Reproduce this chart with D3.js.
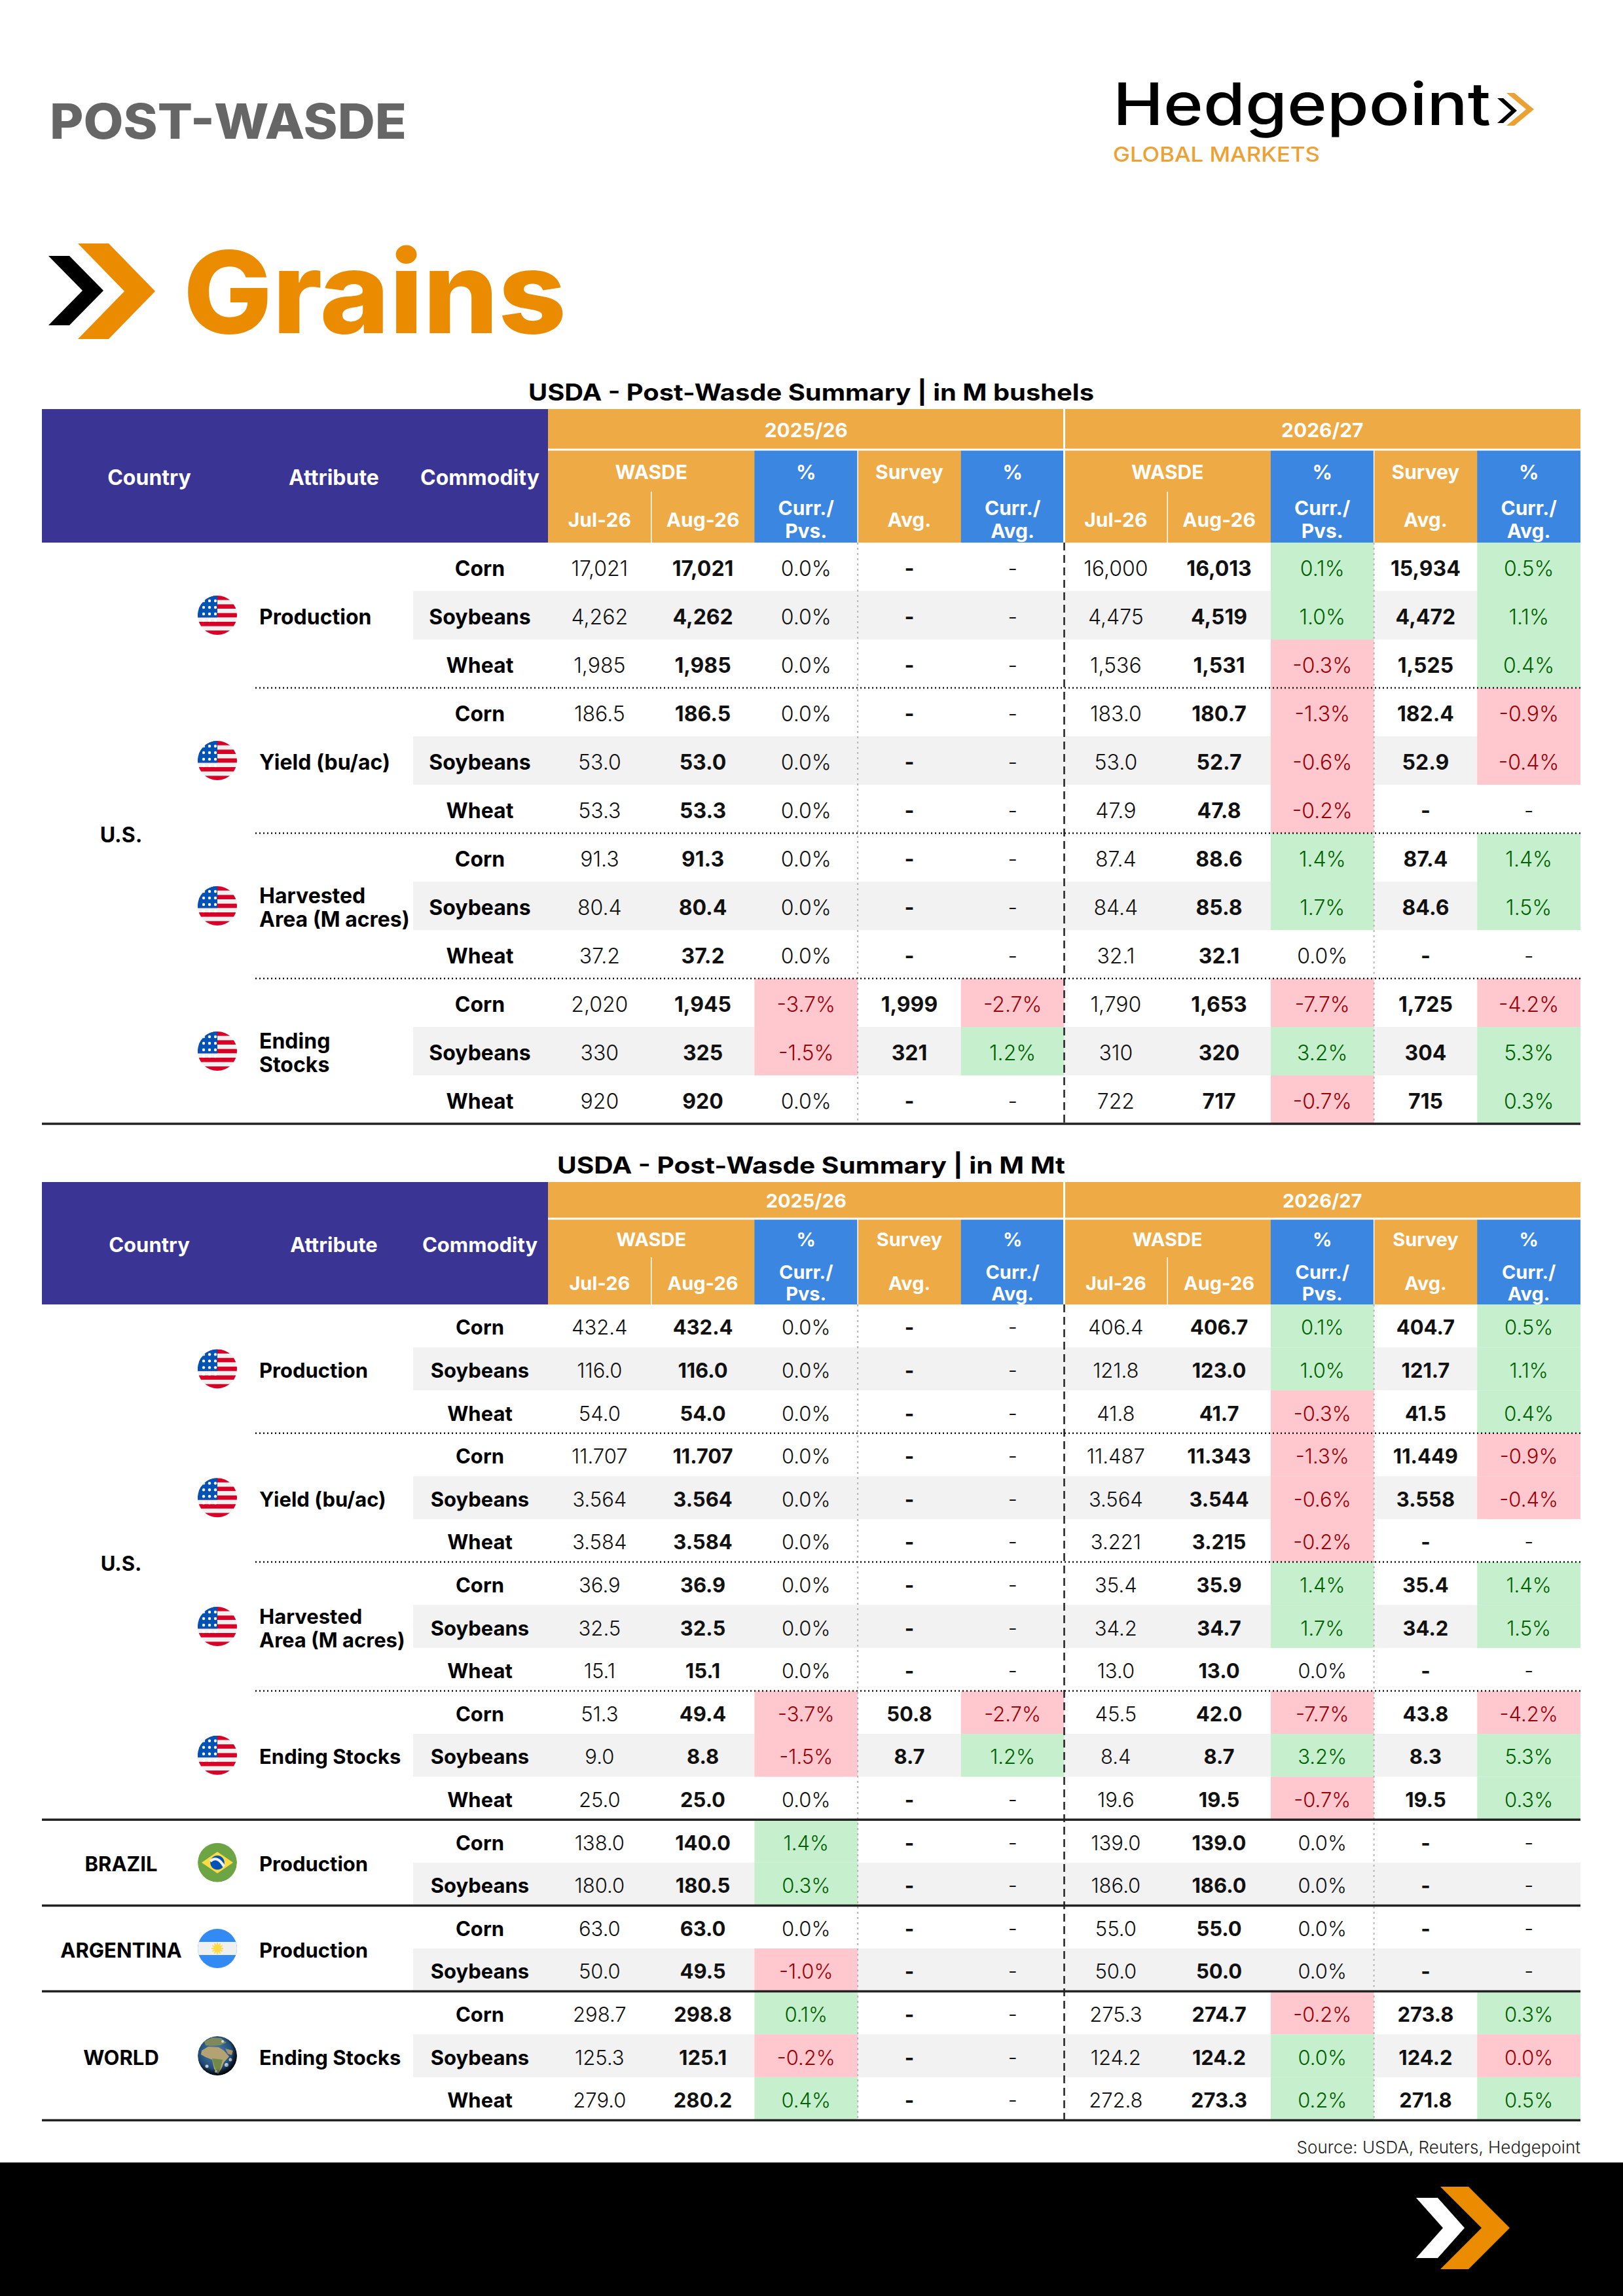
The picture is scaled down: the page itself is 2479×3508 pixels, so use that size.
<!DOCTYPE html>
<html>
<head>
<meta charset="utf-8">
<script src="https://cdn.jsdelivr.net/npm/d3@7"></script>
<style>
  body { margin: 0; background: #fff; }
  svg { display: block; }
</style>
</head>
<body>
<svg id="chart"></svg>
<script>
// ---- data: table 1, in M bushels ----
var t1Commodity = ["Corn","Soybeans","Wheat","Corn","Soybeans","Wheat","Corn","Soybeans","Wheat","Corn","Soybeans","Wheat"];
var t1Decimals = [0,0,0,1,1,1,1,1,1,0,0,0];
var t1Jul25 = [17021,4262,1985,186.5,53.0,53.3,91.3,80.4,37.2,2020,330,920];
var t1Aug25 = [17021,4262,1985,186.5,53.0,53.3,91.3,80.4,37.2,1945,325,920];
var t1Pct25 = [0,0,0,0,0,0,0,0,0,-3.7,-1.5,0];
var t1Survey25 = [null,null,null,null,null,null,null,null,null,1999,321,null];
var t1PctAvg25 = [null,null,null,null,null,null,null,null,null,-2.7,1.2,null];
var t1Jul26 = [16000,4475,1536,183.0,53.0,47.9,87.4,84.4,32.1,1790,310,722];
var t1Aug26 = [16013,4519,1531,180.7,52.7,47.8,88.6,85.8,32.1,1653,320,717];
var t1Pct26 = [0.1,1.0,-0.3,-1.3,-0.6,-0.2,1.4,1.7,0,-7.7,3.2,-0.7];
var t1Survey26 = [15934,4472,1525,182.4,52.9,null,87.4,84.6,null,1725,304,715];
var t1PctAvg26 = [0.5,1.1,0.4,-0.9,-0.4,null,1.4,1.5,null,-4.2,5.3,0.3];
var t1Country = ["U.S."];
var t1CountrySize = [12];
var t1Attribute = [["Production"],["Yield (bu/ac)"],["Harvested","Area (M acres)"],["Ending","Stocks"]];
var t1AttributeSize = [3,3,3,3];
var t1AttributeFlag = ["us","us","us","us"];

// ---- data: table 2, in M Mt ----
var t2Commodity = ["Corn","Soybeans","Wheat","Corn","Soybeans","Wheat","Corn","Soybeans","Wheat","Corn","Soybeans","Wheat",
                   "Corn","Soybeans","Corn","Soybeans","Corn","Soybeans","Wheat"];
var t2Decimals = [1,1,1,3,3,3,1,1,1,1,1,1,1,1,1,1,1,1,1];
var t2Jul25 = [432.4,116.0,54.0,11.707,3.564,3.584,36.9,32.5,15.1,51.3,9.0,25.0,138.0,180.0,63.0,50.0,298.7,125.3,279.0];
var t2Aug25 = [432.4,116.0,54.0,11.707,3.564,3.584,36.9,32.5,15.1,49.4,8.8,25.0,140.0,180.5,63.0,49.5,298.8,125.1,280.2];
var t2Pct25 = [0,0,0,0,0,0,0,0,0,-3.7,-1.5,0,1.4,0.3,0,-1.0,0.1,-0.2,0.4];
var t2Survey25 = [null,null,null,null,null,null,null,null,null,50.8,8.7,null,null,null,null,null,null,null,null];
var t2PctAvg25 = [null,null,null,null,null,null,null,null,null,-2.7,1.2,null,null,null,null,null,null,null,null];
var t2Jul26 = [406.4,121.8,41.8,11.487,3.564,3.221,35.4,34.2,13.0,45.5,8.4,19.6,139.0,186.0,55.0,50.0,275.3,124.2,272.8];
var t2Aug26 = [406.7,123.0,41.7,11.343,3.544,3.215,35.9,34.7,13.0,42.0,8.7,19.5,139.0,186.0,55.0,50.0,274.7,124.2,273.3];
var t2Pct26 = [0.1,1.0,-0.3,-1.3,-0.6,-0.2,1.4,1.7,0,-7.7,3.2,-0.7,0,0,0,0,-0.2,0.02,0.2];
var t2Survey26 = [404.7,121.7,41.5,11.449,3.558,null,35.4,34.2,null,43.8,8.3,19.5,null,null,null,null,273.8,124.2,271.8];
var t2PctAvg26 = [0.5,1.1,0.4,-0.9,-0.4,null,1.4,1.5,null,-4.2,5.3,0.3,null,null,null,null,0.3,-0.02,0.5];
var t2Country = ["U.S.","BRAZIL","ARGENTINA","WORLD"];
var t2CountrySize = [12,2,2,3];
var t2Attribute = [["Production"],["Yield (bu/ac)"],["Harvested","Area (M acres)"],["Ending Stocks"],["Production"],["Production"],["Ending Stocks"]];
var t2AttributeSize = [3,3,3,3,2,2,3];
var t2AttributeFlag = ["us","us","us","us","br","ar","world"];

// ---- header labels ----
var yearLabels = ["2025/26","2026/27"];
var monthLabels = ["Jul-26","Aug-26"];
var leftHeaders = ["Country","Attribute","Commodity"];

var W = 2479, H = 3508;
var FONT = "Inter, 'Open Sans', sans-serif";
var purple = "#3A3494", orange = "#EDAA45", blue = "#3B86E0";
var greenBg = "#C6EFCE", greenTx = "#006100", redBg = "#FFC7CE", redTx = "#9C0006";

var svg = d3.select("#chart").attr("width", W).attr("height", H)
  .style("font-family", FONT);
svg.append("rect").attr("width", W).attr("height", H).attr("fill", "#fff");
var defs = svg.append("defs");

var loc = d3.formatLocale({decimal: ".", thousands: ",", grouping: [3], currency: ["", ""], minus: "-"});
var fmtPct = loc.format(".1f");
function fmtVal(v, dec) { return loc.format(",." + dec + "f")(v); }

var colKeys = ["jul25","aug25","pct25","sur25","pavg25","jul26","aug26","pct26","sur26","pavg26"];
var x = d3.scaleBand().domain(colKeys).range([837, 2414]);
var colType = {jul25:"val", aug25:"val", pct25:"pct", sur25:"val", pavg25:"pct",
               jul26:"val", aug26:"val", pct26:"pct", sur26:"val", pavg26:"pct"};
var colWeight = {jul25:300, aug25:700, pct25:300, sur25:700, pavg25:300,
                 jul26:300, aug26:700, pct26:300, sur26:700, pavg26:300};

var tableLeft = 64, tableRight = 2414, commLeft = 631;
var countryX = 185, flagX = 332, attrX = 396, commX = 733;

function chevron(g, x0, y0, w, h, t, fill) {
  var pts = [[x0,y0],[x0+t,y0],[x0+w,y0+h/2],[x0+t,y0+h],[x0,y0+h],[x0+w-t,y0+h/2]];
  g.append("polygon").attr("points", pts.map(function(p){return p.join(",");}).join(" ")).attr("fill", fill);
}

// ---- page header ----
var head = svg.append("g");
head.append("text").attr("x", 76).attr("y", 212).attr("font-size", 74).attr("font-weight", 800)
  .attr("fill", "#666").attr("textLength", 545).attr("lengthAdjust", "spacingAndGlyphs").text("POST-WASDE");
head.append("text").attr("x", 1700).attr("y", 191).attr("font-size", 90).attr("font-weight", 500)
  .attr("fill", "#000").attr("textLength", 577).attr("lengthAdjust", "spacingAndGlyphs").text("Hedgepoint");
chevron(head, 2287, 150, 30, 38, 9, "#000");
chevron(head, 2301, 142, 42, 50, 12, "#EBA134");
head.append("text").attr("x", 1700).attr("y", 247).attr("font-size", 31).attr("font-weight", 500)
  .attr("fill", "#EBA134").attr("textLength", 316).attr("lengthAdjust", "spacingAndGlyphs").text("GLOBAL MARKETS");
chevron(head, 74, 391, 84, 106, 32, "#000");
chevron(head, 119, 372, 118, 146, 47, "#EB8C00");
head.append("text").attr("x", 280).attr("y", 509).attr("font-size", 174).attr("font-weight", 800)
  .attr("fill", "#EB8C00").attr("textLength", 585).attr("lengthAdjust", "spacingAndGlyphs").text("Grains");

// ---- flags ----
var flagCount = 0;
function pts(list) { return list.map(function(p){return p.join(",");}).join(" "); }
function drawFlag(g, kind, cx, cy, r) {
  var id = "clip" + (flagCount++);
  defs.append("clipPath").attr("id", id).append("circle").attr("cx", cx).attr("cy", cy).attr("r", r);
  var f = g.append("g").attr("clip-path", "url(#" + id + ")");
  if (kind === "us") {
    var n = 9, bh = 2 * r / n;
    d3.range(n).forEach(function(i) {
      f.append("rect").attr("x", cx - r).attr("y", cy - r + i * bh).attr("width", 2 * r).attr("height", bh + 0.5)
        .attr("fill", i % 2 === 0 ? "#D80027" : "#F0F0F0");
    });
    f.append("rect").attr("x", cx - r).attr("y", cy - r).attr("width", r).attr("height", bh * 5).attr("fill", "#0052B4");
    d3.range(3).forEach(function(a) {
      d3.range(4).forEach(function(b) {
        f.append("circle").attr("cx", cx - r + 9 + a * 9).attr("cy", cy - r + 8 + b * 10).attr("r", 2.2).attr("fill", "#fff");
      });
    });
  } else if (kind === "br") {
    f.append("circle").attr("cx", cx).attr("cy", cy).attr("r", r).attr("fill", "#6DA544");
    f.append("polygon").attr("points", pts([[cx - r*0.8, cy],[cx, cy - r*0.55],[cx + r*0.8, cy],[cx, cy + r*0.55]]))
      .attr("fill", "#FFDA44");
    f.append("circle").attr("cx", cx).attr("cy", cy).attr("r", r*0.36).attr("fill", "#0052B4");
    f.append("path").attr("d", "M" + (cx - r*0.36) + "," + (cy - 2) + " Q" + cx + "," + (cy - 12) + " " + (cx + r*0.34) + "," + (cy + 6))
      .attr("stroke", "#F0F0F0").attr("stroke-width", 4).attr("fill", "none");
  } else if (kind === "ar") {
    f.append("rect").attr("x", cx - r).attr("y", cy - r).attr("width", 2*r).attr("height", 2*r).attr("fill", "#338AF3");
    f.append("rect").attr("x", cx - r).attr("y", cy - r/3).attr("width", 2*r).attr("height", 2*r/3).attr("fill", "#F0F0F0");
    f.append("circle").attr("cx", cx).attr("cy", cy).attr("r", 6).attr("fill", "#FFDA44");
    d3.range(12).forEach(function(i) {
      var a = i * Math.PI / 6;
      f.append("line").attr("x1", cx).attr("y1", cy).attr("x2", cx + 9 * Math.cos(a)).attr("y2", cy + 9 * Math.sin(a))
        .attr("stroke", "#FFDA44").attr("stroke-width", 2);
    });
  } else {
    var gid = "globe" + flagCount;
    var gr = defs.append("radialGradient").attr("id", gid).attr("cx", "45%").attr("cy", "40%").attr("r", "60%");
    gr.append("stop").attr("offset", "0%").attr("stop-color", "#4F86B8");
    gr.append("stop").attr("offset", "70%").attr("stop-color", "#234D78");
    gr.append("stop").attr("offset", "100%").attr("stop-color", "#0B1628");
    f.append("circle").attr("cx", cx).attr("cy", cy).attr("r", r).attr("fill", "url(#" + gid + ")");
    // Europe
    f.append("polygon").attr("points", pts([[cx-20,cy-22],[cx-8,cy-28],[cx+6,cy-27],[cx+14,cy-20],[cx+4,cy-16],[cx-10,cy-15],[cx-18,cy-16]]))
      .attr("fill", "#7E8A5C");
    // Africa
    f.append("polygon").attr("points", pts([[cx-24,cy-8],[cx-14,cy-14],[cx+2,cy-13],[cx+10,cy-8],[cx+18,cy+1],[cx+10,cy+10],
      [cx+6,cy+20],[cx+1,cy+28],[cx-5,cy+20],[cx-8,cy+6],[cx-18,cy+2],[cx-25,cy-2]]))
      .attr("fill", "#B4A272");
    f.append("polygon").attr("points", pts([[cx-8,cy+4],[cx+8,cy+6],[cx+5,cy+18],[cx+1,cy+26],[cx-4,cy+18]]))
      .attr("fill", "#6F8A48");
    // Arabia
    f.append("polygon").attr("points", pts([[cx+12,cy-11],[cx+24,cy-8],[cx+22,cy-1],[cx+16,cy-3]])).attr("fill", "#A8946A");
    [[cx+14,cy+14,3],[cx+20,cy+6,2.5],[cx-16,cy+16,2.5],[cx+8,cy-22,2],[cx-2,cy+24,2]].forEach(function(c) {
      f.append("circle").attr("cx", c[0]).attr("cy", c[1]).attr("r", c[2]).attr("fill", "#E8EEF4").attr("opacity", 0.8);
    });
    var sh = "shade" + flagCount;
    var sg = defs.append("radialGradient").attr("id", sh).attr("cx", "42%").attr("cy", "40%").attr("r", "62%");
    sg.append("stop").attr("offset", "70%").attr("stop-color", "#000").attr("stop-opacity", 0);
    sg.append("stop").attr("offset", "100%").attr("stop-color", "#000").attr("stop-opacity", 0.75);
    f.append("circle").attr("cx", cx).attr("cy", cy).attr("r", r).attr("fill", "url(#" + sh + ")");
  }
}

// ---- table drawing ----
function drawTable(cfg) {
  var g = svg.append("g");
  var fs = cfg.fs, hs = cfg.hfs;
  var k = (cfg.headH - cfg.yearH) / 142;
  var yb = cfg.top + cfg.yearH;
  var bodyTop = cfg.top + cfg.headH;

  var rows = cfg.commodity.map(function(c, i) {
    return {commodity: c, dec: cfg.decimals[i],
      jul25: cfg.jul25[i], aug25: cfg.aug25[i], pct25: cfg.pct25[i], sur25: cfg.sur25[i], pavg25: cfg.pavg25[i],
      jul26: cfg.jul26[i], aug26: cfg.aug26[i], pct26: cfg.pct26[i], sur26: cfg.sur26[i], pavg26: cfg.pavg26[i]};
  });
  var y = d3.scaleBand().domain(d3.range(rows.length)).range([bodyTop, bodyTop + rows.length * cfg.rowH]);
  var bodyBottom = bodyTop + rows.length * cfg.rowH;

  // title
  g.append("text").attr("x", 1239).attr("y", cfg.titleY).attr("text-anchor", "middle")
    .attr("font-size", 35).attr("font-weight", 700).attr("fill", "#000")
    .attr("textLength", cfg.titleW).attr("lengthAdjust", "spacingAndGlyphs").text(cfg.title);

  // header backgrounds
  g.append("rect").attr("x", tableLeft).attr("y", cfg.top).attr("width", x.range()[0] - tableLeft)
    .attr("height", cfg.headH).attr("fill", purple);
  g.append("rect").attr("x", x.range()[0]).attr("y", cfg.top).attr("width", x.range()[1] - x.range()[0])
    .attr("height", cfg.headH).attr("fill", orange);
  ["pct25","pavg25","pct26","pavg26"].forEach(function(c) {
    g.append("rect").attr("x", x(c)).attr("y", yb).attr("width", x.bandwidth()).attr("height", cfg.headH - cfg.yearH).attr("fill", blue);
  });
  // header white rules
  g.append("line").attr("x1", x.range()[0]).attr("x2", x.range()[1]).attr("y1", yb).attr("y2", yb)
    .attr("stroke", "#fff").attr("stroke-width", 3);
  g.append("line").attr("x1", x("jul26")).attr("x2", x("jul26")).attr("y1", cfg.top).attr("y2", bodyTop)
    .attr("stroke", "#fff").attr("stroke-width", 3);
  ["sur25","sur26"].forEach(function(c) {
    g.append("line").attr("x1", x(c)).attr("x2", x(c)).attr("y1", yb).attr("y2", bodyTop)
      .attr("stroke", "#fff").attr("stroke-width", 1.5);
  });
  ["aug25","aug26"].forEach(function(c) {
    g.append("line").attr("x1", x(c)).attr("x2", x(c)).attr("y1", yb + 64 * k).attr("y2", bodyTop)
      .attr("stroke", "#fff").attr("stroke-width", 1.5);
  });

  var ht = g.append("g").attr("fill", "#fff").attr("font-weight", 700).attr("font-size", hs).attr("text-anchor", "middle");
  // left header labels
  [countryX + 43, 510, commX].forEach(function(cx, i) {
    ht.append("text").attr("x", cx).attr("y", cfg.top + cfg.headH / 2).attr("dy", "0.44em")
      .attr("font-size", hs + 2).text(leftHeaders[i]);
  });
  // year labels
  [["jul25","pavg25"],["jul26","pavg26"]].forEach(function(p, i) {
    var cx = (x(p[0]) + x(p[1]) + x.bandwidth()) / 2;
    ht.append("text").attr("x", cx).attr("y", cfg.top + cfg.yearH * 0.69).text(yearLabels[i]);
  });
  [["jul25","aug25"],["jul26","aug26"]].forEach(function(p) {
    ht.append("text").attr("x", x(p[1])).attr("y", yb + 45 * k).text("WASDE");
    p.forEach(function(c, j) {
      ht.append("text").attr("x", x(c) + x.bandwidth() / 2).attr("y", yb + 118 * k).text(monthLabels[j]);
    });
  });
  [["pct25","Pvs."],["pavg25","Avg."],["pct26","Pvs."],["pavg26","Avg."]].forEach(function(p) {
    var cx = x(p[0]) + x.bandwidth() / 2;
    ht.append("text").attr("x", cx).attr("y", yb + 45 * k).text("%");
    ht.append("text").attr("x", cx).attr("y", yb + 100 * k).text("Curr./");
    ht.append("text").attr("x", cx).attr("y", yb + 135 * k).text(p[1]);
  });
  ["sur25","sur26"].forEach(function(c) {
    var cx = x(c) + x.bandwidth() / 2;
    ht.append("text").attr("x", cx).attr("y", yb + 45 * k).text("Survey");
    ht.append("text").attr("x", cx).attr("y", yb + 118 * k).text("Avg.");
  });

  // body backgrounds: grey soybean rows
  g.selectAll(".greyrow").data(rows.filter(function(r){return r.commodity === "Soybeans";}))
    .enter().append("rect")
    .attr("x", commLeft).attr("y", function(d){return y(rows.indexOf(d));})
    .attr("width", tableRight - commLeft).attr("height", y.bandwidth()).attr("fill", "#F2F2F2");

  // body cells
  rows.forEach(function(r, i) {
    var cy = y(i) + y.bandwidth() / 2;
    g.append("text").attr("x", commX).attr("y", cy).attr("dy", "0.44em").attr("text-anchor", "middle")
      .attr("font-size", fs).attr("font-weight", 700).attr("fill", "#000").text(r.commodity);
    colKeys.forEach(function(c) {
      var v = r[c], txt, fill = "#111";
      if (v === null) {
        txt = "-";
      } else if (colType[c] === "pct") {
        txt = fmtPct(v) + "%";
        if (v !== 0) {
          g.append("rect").attr("x", x(c)).attr("y", y(i)).attr("width", x.bandwidth()).attr("height", y.bandwidth())
            .attr("fill", v > 0 ? greenBg : redBg);
          fill = v > 0 ? greenTx : redTx;
        }
      } else {
        txt = fmtVal(v, r.dec);
      }
      g.append("text").attr("x", x(c) + x.bandwidth() / 2).attr("y", cy).attr("dy", "0.44em")
        .attr("text-anchor", "middle").attr("font-size", fs).attr("font-weight", colWeight[c])
        .attr("fill", fill).text(txt);
    });
  });

  // vertical separators in body
  [["sur25","#B5B5B5","3,5",2],["jul26","#222","12,7",2.5],["sur26","#B5B5B5","3,5",2]].forEach(function(s) {
    g.append("line").attr("x1", x(s[0])).attr("x2", x(s[0])).attr("y1", bodyTop).attr("y2", bodyBottom)
      .attr("stroke", s[1]).attr("stroke-dasharray", s[2]).attr("stroke-width", s[3]);
  });

  // attribute groups
  var start = 0;
  cfg.attribute.forEach(function(lines, a) {
    var n = cfg.attributeSize[a];
    var c0 = y(start), c1 = y(start + n - 1) + y.bandwidth();
    var cy = (c0 + c1) / 2;
    drawFlag(g, cfg.attributeFlag[a], flagX, cy, 30);
    lines.forEach(function(l, j) {
      g.append("text").attr("x", attrX).attr("y", cy + (j - (lines.length - 1) / 2) * 36).attr("dy", "0.44em")
        .attr("font-size", fs).attr("font-weight", 700).attr("fill", "#000").text(l);
    });
    start += n;
    if (start < rows.length) {
      g.append("line").attr("x1", 390).attr("x2", tableRight).attr("y1", c1).attr("y2", c1)
        .attr("stroke", "#111").attr("stroke-width", 2.5).attr("stroke-dasharray", "2,4");
    }
  });

  // country groups
  start = 0;
  cfg.country.forEach(function(name, ci) {
    var n = cfg.countrySize[ci];
    var c0 = y(start), c1 = y(start + n - 1) + y.bandwidth();
    g.append("text").attr("x", countryX).attr("y", (c0 + c1) / 2).attr("dy", "0.44em").attr("text-anchor", "middle")
      .attr("font-size", fs).attr("font-weight", 700).attr("fill", "#000").text(name);
    g.append("line").attr("x1", tableLeft).attr("x2", tableRight).attr("y1", c1).attr("y2", c1)
      .attr("stroke", "#222").attr("stroke-width", 3.5);
    start += n;
  });
}

drawTable({
  title: "USDA - Post-Wasde Summary | in M bushels", titleY: 612, titleW: 864,
  top: 625, yearH: 62, headH: 204, rowH: 74, fs: 32, hfs: 30,
  commodity: t1Commodity, decimals: t1Decimals,
  jul25: t1Jul25, aug25: t1Aug25, pct25: t1Pct25, sur25: t1Survey25, pavg25: t1PctAvg25,
  jul26: t1Jul26, aug26: t1Aug26, pct26: t1Pct26, sur26: t1Survey26, pavg26: t1PctAvg26,
  country: t1Country, countrySize: t1CountrySize,
  attribute: t1Attribute, attributeSize: t1AttributeSize, attributeFlag: t1AttributeFlag
});

drawTable({
  title: "USDA - Post-Wasde Summary | in M Mt", titleY: 1793, titleW: 776,
  top: 1806, yearH: 56, headH: 187, rowH: 65.6, fs: 31, hfs: 29,
  commodity: t2Commodity, decimals: t2Decimals,
  jul25: t2Jul25, aug25: t2Aug25, pct25: t2Pct25, sur25: t2Survey25, pavg25: t2PctAvg25,
  jul26: t2Jul26, aug26: t2Aug26, pct26: t2Pct26, sur26: t2Survey26, pavg26: t2PctAvg26,
  country: t2Country, countrySize: t2CountrySize,
  attribute: t2Attribute, attributeSize: t2AttributeSize, attributeFlag: t2AttributeFlag
});

// ---- source + footer ----
svg.append("text").attr("x", 2414).attr("y", 3290).attr("text-anchor", "end")
  .attr("font-size", 26).attr("font-weight", 300).attr("fill", "#222").text("Source: USDA, Reuters, Hedgepoint");
var foot = svg.append("g");
foot.append("rect").attr("x", 0).attr("y", 3304).attr("width", W).attr("height", H - 3304).attr("fill", "#000");
chevron(foot, 2163, 3358, 74, 92, 33, "#fff");
chevron(foot, 2200, 3341, 106, 126, 43, "#EB8C00");
</script>
</body>
</html>
